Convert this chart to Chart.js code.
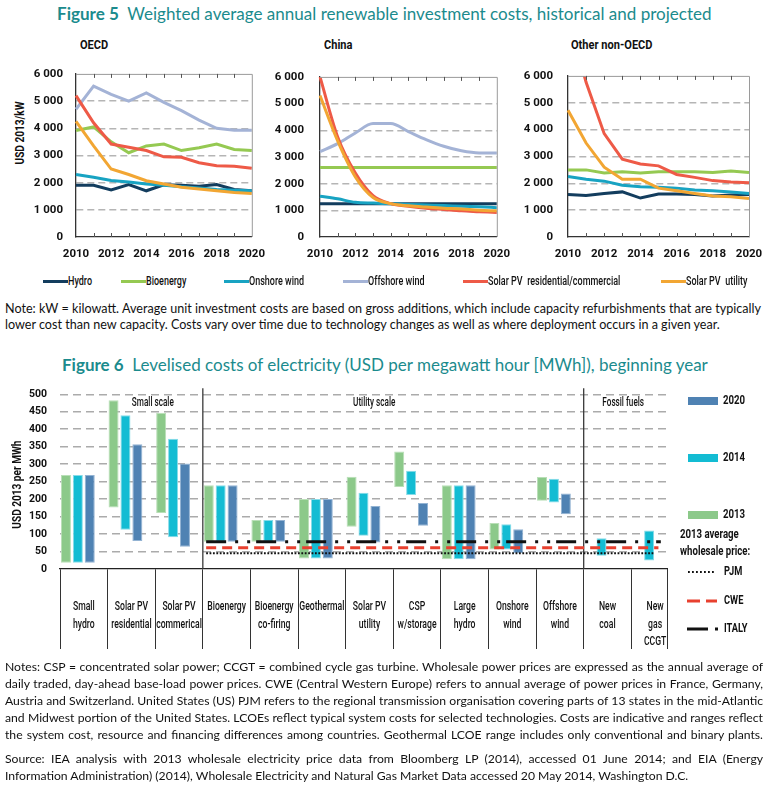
<!DOCTYPE html>
<html><head><meta charset="utf-8">
<script src="https://cdn.jsdelivr.net/npm/chart.js@4.4.1/dist/chart.umd.min.js"></script>
<style>
html,body{margin:0;padding:0;background:#fff;}
body{width:773px;height:785px;overflow:hidden;position:relative;font-family:Lato,"Open Sans",sans-serif;color:#111;}
.a{position:absolute;white-space:nowrap;}
.ttl{color:#1b8b8d;font-size:16px;line-height:20px;}
.ttl b{font-weight:700;}
.cd{font-family:Roboto,"Liberation Sans",sans-serif;display:inline-block;transform-origin:0 50%;}
.pt{font-weight:bold;font-size:13px;line-height:16px;color:#111;transform:scaleX(0.85);}
.lg{font-size:12.5px;line-height:14px;font-weight:500;transform:scaleX(0.72);}
.sw{position:absolute;height:3px;}
.nl{left:5px;font-size:11.6px;line-height:14px;}
.j{text-align:justify;text-align-last:justify;}
canvas{position:absolute;}
</style></head><body>

<div class="a ttl fit" data-w="655" style="top:4px;left:57px;"><b>Figure 5</b>&nbsp; Weighted average annual renewable investment costs, historical and projected</div>

<div class="a cd pt" style="left:80px;top:37px;">OECD</div>
<div class="a cd pt" style="left:324px;top:37px;">China</div>
<div class="a cd pt" style="left:571px;top:37px;">Other non-OECD</div>
<div class="a" style="left:-20px;top:121px;width:80px;height:16px;text-align:center;">
  <span style="display:inline-block;font-family:Roboto,sans-serif;font-weight:bold;font-size:12px;line-height:16px;transform:rotate(-90deg) scaleX(0.84);">USD 2013/kW</span>
</div>

<canvas id="c1" width="275" height="213" style="left:0px;top:54px;width:275px;height:213px;"></canvas>
<canvas id="c2" width="255" height="213" style="left:265px;top:54px;width:255px;height:213px;"></canvas>
<canvas id="c3" width="263" height="213" style="left:510px;top:54px;width:263px;height:213px;"></canvas>

<div id="leg5"></div>

<div class="a nl n1" data-w="756" style="top:302px;">Note: kW = kilowatt. Average unit investment costs are based on gross additions, which include capacity refurbishments that are typically</div>
<div class="a nl n1 last" style="top:318px;">lower cost than new capacity. Costs vary over time due to technology changes as well as where deployment occurs in a given year.</div>

<div class="a ttl fit" data-w="646" style="top:355px;left:62px;"><b>Figure 6</b>&nbsp; Levelised costs of electricity (USD per megawatt hour [MWh]), beginning year</div>

<canvas id="c6" width="773" height="285" style="left:0px;top:375px;width:773px;height:285px;"></canvas>

<div class="a nl n2" data-w="758" style="top:660px;">Notes: CSP = concentrated solar power; CCGT = combined cycle gas turbine. Wholesale power prices are expressed as the annual average of</div>
<div class="a nl n2" data-w="758" style="top:677px;">daily traded, day-ahead base-load power prices. CWE (Central Western Europe) refers to annual average of power prices in France, Germany,</div>
<div class="a nl n2" data-w="758" style="top:694px;">Austria and Switzerland. United States (US) PJM refers to the regional transmission organisation covering parts of 13 states in the mid-Atlantic</div>
<div class="a nl n2" data-w="758" style="top:711px;">and Midwest portion of the United States. LCOEs reflect typical system costs for selected technologies. Costs are indicative and ranges reflect</div>
<div class="a nl n2" data-w="758" style="top:728px;">the system cost, resource and financing differences among countries. Geothermal LCOE range includes only conventional and binary plants.</div>
<div class="a nl n2" data-w="758" style="top:752px;">Source: IEA analysis with 2013 wholesale electricity price data from Bloomberg LP (2014), accessed 01 June 2014; and EIA (Energy</div>
<div class="a nl n2 last" style="top:769px;">Information Administration) (2014), Wholesale Electricity and Natural Gas Market Data accessed 20 May 2014, Washington D.C.</div>

<script>
// ---------------- DATA: Figure 5 ----------------
const years = ['2010','2011','2012','2013','2014','2015','2016','2017','2018','2019','2020'];
const seriesNames = ['Hydro','Bioenergy','Onshore wind','Offshore wind','Solar PV\u00a0 residential/commercial','Solar PV\u00a0 utility'];
const seriesColors = ['#133d5e','#95c952','#18a3c2','#a4b3d6','#ee5a47','#f2a633'];

const oecdHydro     = [1900,1900,1730,1930,1700,1920,1900,1870,1930,1750,1700];
const oecdBio       = [3920,4050,3500,3100,3350,3420,3180,3280,3420,3220,3180];
const oecdOnshore   = [2300,2200,2080,2020,1950,1900,1850,1800,1750,1720,1700];
const oecdOffshore  = [4700,5550,5250,5000,5300,4950,4650,4300,4000,3930,3930];
const oecdSolarRes  = [5200,4200,3420,3300,3180,2950,2930,2730,2620,2600,2530];
const oecdSolarUtil = [4250,3350,2500,2300,2070,1950,1830,1770,1700,1640,1600];

const chinaHydro     = [1250,1250,1250,1250,1250,1250,1250,1250,1250,1250,1250];
const chinaBio       = [2600,2600,2600,2600,2600,2600,2600,2600,2600,2600,2600];
const chinaOnshore   = [1530,1430,1300,1270,1250,1220,1200,1180,1150,1130,1100];
const chinaOffshore  = [3200,3500,3900,4250,4250,3950,3650,3400,3230,3150,3150];
const chinaSolarRes  = [6000,3750,2400,1550,1250,1150,1080,1030,980,950,920];
const chinaSolarUtil = [5300,3600,2250,1480,1250,1170,1120,1080,1050,1000,980];

const otherHydro     = [1580,1550,1620,1680,1450,1600,1600,1580,1530,1560,1580];
const otherBio       = [2500,2500,2380,2430,2380,2430,2430,2430,2400,2460,2400];
const otherOnshore   = [2250,2150,2080,1930,1870,1850,1820,1750,1720,1680,1620];
const otherOffshore  = [];
const otherSolarRes  = [8200,5760,3850,2900,2720,2650,2330,2220,2100,2050,2020];
const otherSolarUtil = [4720,3500,2600,2150,2150,1820,1720,1620,1530,1500,1430];

// ---------------- DATA: Figure 6 ----------------
const lcoeCategories = [['Small','hydro'],['Solar PV','residential'],['Solar PV','commerical'],['Bioenergy'],['Bioenergy','co-firing'],['Geothermal'],['Solar PV','utility'],['CSP','w/storage'],['Large','hydro'],['Onshore','wind'],['Offshore','wind'],['New','coal'],['New','gas','CCGT']];
const lcoeYears = ['2013','2014','2020'];
const lcoeColors = ['#8cc98a','#13bcd3','#4f82b3'];
const lcoeBorders = ['#b9dfb7','#86dbe8','#93b3d3'];
const low2013  = [18,176,160,78,78,30,121,235,28,56,195,null,null];
const high2013 = [269,483,447,240,140,200,264,336,240,132,263,null,null];
const low2014  = [18,112,91,78,78,30,95,212,28,56,190,38,24];
const high2014 = [269,440,373,240,140,200,218,281,240,128,258,88,110];
const low2020  = [18,80,64,78,78,30,76,124,28,45,157,null,null];
const high2020 = [269,357,302,240,140,200,180,189,240,114,216,null,null];
const pricePJM = 45, priceCWE = 61, priceItaly = 78;
const priceStart = 2.57, priceEnd = 12.12;
const sectionLabels = ['Small scale','Utility scale','Fossil fuels'];
const sectionPos = [1.45, 6.1, 11.33];
const dividerPos = [2.5, 10.5];

const FONT = 'Roboto, "Liberation Sans", sans-serif';
const SQ = 0.72;   // horizontal squeeze for condensed look

// ---------------- Figure 5 legend (HTML) ----------------
(function(){
  const lineX = [43,121,224,343,463,661];
  const leg = document.getElementById('leg5');
  seriesNames.forEach((n,i)=>{
    const sw = document.createElement('div');
    sw.className='sw'; sw.style.left=lineX[i]+'px'; sw.style.top='280px'; sw.style.width='25px'; sw.style.background=seriesColors[i];
    leg.appendChild(sw);
    const t = document.createElement('div');
    t.className='a cd lg'; t.style.left=(lineX[i]+25)+'px'; t.style.top='274px'; t.textContent=n;
    leg.appendChild(t);
  });
})();

// ---------------- text fitting ----------------
function fitTitles(){
  document.querySelectorAll('.fit').forEach(el=>{
    const w = parseFloat(el.dataset.w);
    el.style.display='inline-block';
    const base = parseFloat(getComputedStyle(el).fontSize);
    const nat = el.getBoundingClientRect().width;
    el.style.fontSize = (base*w/nat)+'px';
  });
}
function fitPara(cls){
  const els = Array.from(document.querySelectorAll('.'+cls));
  let r = 10;
  els.forEach(el=>{ el.style.display='inline-block'; });
  const base = parseFloat(getComputedStyle(els[0]).fontSize);
  els.forEach(el=>{ if(el.dataset.w){ r = Math.min(r, parseFloat(el.dataset.w)/el.getBoundingClientRect().width); } });
  els.forEach(el=>{
    el.style.fontSize = (base*r*0.997)+'px';
    if(el.dataset.w){ el.style.display='block'; el.style.width=el.dataset.w+'px'; el.classList.add('j'); }
  });
}
fitTitles(); fitPara('n1'); fitPara('n2');

function sqText(ctx, text, x, y, align, sx){
  ctx.save(); ctx.translate(x, y); ctx.scale(sx||SQ, 1); ctx.textAlign = align; ctx.fillText(text, 0, 0); ctx.restore();
}

// ---------------- Figure 5 charts ----------------
function fmt(v){ return v===0 ? '0' : (v/1000)+' 000'; }
const frame5 = {
  id:'frame5',
  afterDraw(chart){
    const {ctx, chartArea:ca, scales:{x}} = chart;
    ctx.save();
    ctx.strokeStyle='#9a9a9a'; ctx.lineWidth=1;
    ctx.beginPath(); ctx.moveTo(ca.left, ca.top+0.5); ctx.lineTo(ca.right+0.5, ca.top+0.5); ctx.lineTo(ca.right+0.5, ca.bottom); ctx.stroke();
    ctx.strokeStyle='#555'; ctx.lineWidth=1;
    for(let i=1;i<years.length-1;i++){
      const px = Math.round(x.getPixelForValue(i))+0.5;
      ctx.beginPath(); ctx.moveTo(px, ca.bottom); ctx.lineTo(px, ca.bottom-4); ctx.stroke();
      ctx.beginPath(); ctx.moveTo(px, ca.top); ctx.lineTo(px, ca.top+4); ctx.stroke();
    }
    ctx.restore();
  }
};
function panel(id, series, o){
  return new Chart(document.getElementById(id), {
    type:'line',
    data:{labels:years, datasets: series.map((d,i)=>({
      label: seriesNames[i], data:d, borderColor:seriesColors[i], backgroundColor:seriesColors[i],
      borderWidth:3, pointRadius:0, fill:false, order:-i,
      tension: o.smooth?0.4:0, cubicInterpolationMode: o.smooth?'monotone':'default'
    }))},
    options:{
      responsive:false, animation:false, events:[],
      layout:{padding:{left:o.pl, right:o.pr, top:8, bottom:8}},
      plugins:{legend:{display:false}, tooltip:{enabled:false}},
      scales:{
        x:{type:'category', offset:false,
           grid:{display:false, drawTicks:false},
           border:{display:true, color:'#333', width:1.3},
           ticks:{autoSkip:false, maxRotation:0, padding:10, color:'#111',
                  font:{family:FONT, size:11.5, weight:'bold'},
                  callback:(v,i)=> i%2===0 ? years[i] : ''},
           afterFit:s=>{ s.height=22; }},
        y:{min:0, max:6000,
           ticks:{stepSize:1000, padding:o.tp, color:'#111', font:{family:FONT, size:11.5, weight:'bold'}, callback:v=>fmt(v)},
           grid:{drawTicks:false, lineWidth:1.5, color:c=> (c.tick && (c.tick.value===0||c.tick.value===6000)) ? 'rgba(0,0,0,0)' : '#b5b5b5'},
           border:{display:true, color:'#333', width:1.3, dash:[7,4]},
           afterFit:s=>{ s.width=o.yw; }}
      }
    },
    plugins:[frame5]
  });
}
panel('c1', [oecdHydro,oecdBio,oecdOnshore,oecdOffshore,oecdSolarRes,oecdSolarUtil], {pl:6, pr:16, yw:70, tp:13});
panel('c2', [chinaHydro,chinaBio,chinaOnshore,chinaOffshore,chinaSolarRes,chinaSolarUtil], {pl:0, pr:17, yw:55, tp:16, smooth:true});
panel('c3', [otherHydro,otherBio,otherOnshore,otherOffshore,otherSolarRes,otherSolarUtil], {pl:0, pr:24, yw:58, tp:15});

// ---------------- Figure 6 chart ----------------
function bars(lo, hi){
  const out=[];
  lo.forEach((v,i)=>{ if(v!==null && hi[i]!==null) out.push({x:i, y:[v, hi[i]]}); });
  return out;
}
const CANVAS_TOP = 375;
const fig6Plugin = {
  id:'fig6',
  beforeDatasetsDraw(chart){
    const {ctx, chartArea:ca, scales:{x}} = chart;
    ctx.save();
    ctx.strokeStyle='#3a3a3a'; ctx.lineWidth=1.3;
    dividerPos.forEach(v=>{
      const px = x.getPixelForValue(v);
      ctx.beginPath(); ctx.moveTo(px, ca.top-6); ctx.lineTo(px, ca.bottom); ctx.stroke();
    });
    ctx.restore();
  },
  afterDraw(chart){
    const {ctx, chartArea:ca, scales:{x, y}} = chart;
    ctx.save();
    // last cell right border
    ctx.strokeStyle='#333'; ctx.lineWidth=1;
    ctx.beginPath(); ctx.moveTo(ca.right+0.5, ca.bottom); ctx.lineTo(ca.right+0.5, ca.bottom+80); ctx.stroke();
    ctx.fillStyle='#111'; ctx.textBaseline='middle';
    // y axis title
    ctx.save();
    ctx.font = 'bold 12px '+FONT;
    ctx.translate(18, (y.getPixelForValue(0)+y.getPixelForValue(500))/2 + 3);
    ctx.rotate(-Math.PI/2); ctx.scale(0.84,1); ctx.textAlign='center';
    ctx.fillText('USD 2013 per MWh', 0, 0);
    ctx.restore();
    // section labels
    ctx.font = '500 12px '+FONT;
    sectionLabels.forEach((s,i)=> sqText(ctx, s, x.getPixelForValue(sectionPos[i]), 403-CANVAS_TOP, 'center', 0.68));
    // category labels
    ctx.font = '500 12px '+FONT;
    lcoeCategories.forEach((lines,i)=>{
      const px = x.getPixelForValue(i);
      lines.forEach((l,k)=> sqText(ctx, l, px, 607-CANVAS_TOP + k*17.5, 'center', SQ));
    });
    // legend
    ctx.font = 'bold 13px '+FONT;
    const legY = [515, 458, 401];
    [0,1,2].forEach(k=>{
      ctx.fillStyle = lcoeColors[k];
      ctx.fillRect(688, legY[k]-4-CANVAS_TOP, 30, 8);
      ctx.fillStyle='#111';
      sqText(ctx, lcoeYears[k], 723, legY[k]-CANVAS_TOP, 'left', 0.74);
    });
    sqText(ctx, '2013 average', 680, 535-CANVAS_TOP, 'left', 0.74);
    sqText(ctx, 'wholesale price:', 680, 552-CANVAS_TOP, 'left', 0.74);
    ctx.font = 'bold 12.5px '+FONT;
    // PJM
    ctx.strokeStyle='#111'; ctx.lineWidth=2; ctx.setLineDash([1.8,2.2]);
    ctx.beginPath(); ctx.moveTo(688, 572-CANVAS_TOP); ctx.lineTo(716, 572-CANVAS_TOP); ctx.stroke();
    sqText(ctx, 'PJM', 724, 572-CANVAS_TOP, 'left', 0.74);
    // CWE
    ctx.strokeStyle='#e8402f'; ctx.lineWidth=3; ctx.setLineDash([]);
    ctx.beginPath(); ctx.moveTo(687, 601-CANVAS_TOP); ctx.lineTo(700, 601-CANVAS_TOP); ctx.moveTo(706, 601-CANVAS_TOP); ctx.lineTo(717, 601-CANVAS_TOP); ctx.stroke();
    sqText(ctx, 'CWE', 724, 601-CANVAS_TOP, 'left', 0.74);
    // ITALY
    ctx.strokeStyle='#111';
    ctx.beginPath(); ctx.moveTo(687, 629-CANVAS_TOP); ctx.lineTo(708, 629-CANVAS_TOP); ctx.moveTo(715, 629-CANVAS_TOP); ctx.lineTo(718, 629-CANVAS_TOP); ctx.stroke();
    sqText(ctx, 'ITALY', 724, 629-CANVAS_TOP, 'left', 0.74);
    ctx.restore();
  }
};
const barDs = [[low2013,high2013],[low2014,high2014],[low2020,high2020]].map((p,k)=>({
  type:'bar', label:lcoeYears[k], data:bars(p[0],p[1]),
  backgroundColor:lcoeColors[k], borderColor:lcoeBorders[k], borderWidth:1, borderSkipped:false,
  barPercentage:0.84, categoryPercentage:1.0, order:2
}));
barDs.push({type:'bar', label:'', data:[], barPercentage:0.84, categoryPercentage:1.0, order:2});
const lineDs = [
  {type:'line', label:'PJM', data:[{x:priceStart,y:pricePJM},{x:priceEnd-0.15,y:pricePJM}], borderColor:'#111', borderWidth:2, borderDash:[1.8,1.6], pointRadius:0, order:1},
  {type:'line', label:'CWE', data:[{x:priceStart,y:priceCWE},{x:priceEnd-0.05,y:priceCWE}], borderColor:'#e8402f', borderWidth:3, borderDash:[10,6], pointRadius:0, order:1},
  {type:'line', label:'ITALY', data:[{x:priceStart,y:priceItaly},{x:priceEnd,y:priceItaly}], borderColor:'#111', borderWidth:3, borderDash:[20,9,3,9,3,6], pointRadius:0, order:0}
];
new Chart(document.getElementById('c6'), {
  data:{datasets: barDs.concat(lineDs)},
  options:{
    responsive:false, animation:false, events:[],
    layout:{padding:{left:7, right:106, top:17, bottom:5}},
    plugins:{legend:{display:false}, tooltip:{enabled:false}},
    scales:{
      x:{type:'linear', min:-0.5, max:12.25, bounds:'data', offset:false,
         afterBuildTicks:s=>{ s.ticks = lcoeCategories.map((c,i)=>({value:i-0.5})); },
         ticks:{display:false},
         grid:{offset:false, drawOnChartArea:false, drawTicks:true, tickLength:80, color:'#333', lineWidth:1},
         border:{display:true, color:'#222', width:1.3},
         afterFit:s=>{ s.height=86; }},
      y:{min:0, max:500,
         ticks:{stepSize:50, padding:13, color:'#111', font:{family:FONT, size:10.5, weight:'bold'}},
         grid:{drawTicks:false, lineWidth:1.5, color:c=> (c.tick && c.tick.value===0) ? 'rgba(0,0,0,0)' : '#ababab'},
         border:{display:false, dash:[8,5]},
         afterFit:s=>{ s.width=53; }}
    }
  },
  plugins:[fig6Plugin]
});
</script>
</body></html>
